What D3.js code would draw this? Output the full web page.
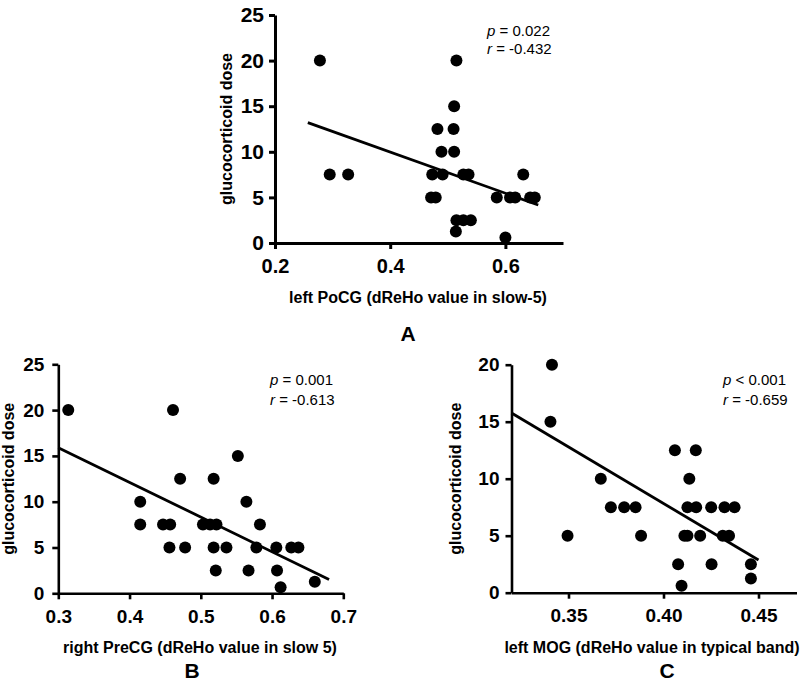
<!DOCTYPE html>
<html>
<head>
<meta charset="utf-8">
<script src="https://cdn.jsdelivr.net/npm/d3@7"></script>
<style>
  html, body { margin: 0; padding: 0; background: #fff; }
  svg { display: block; font-family: "Liberation Sans", Arial, sans-serif; }
</style>
</head>
<body>
<svg id="chart" width="800" height="684"></svg>
<script>
// ---------- Data ----------
// Panel A: left PoCG (dReHo value in slow-5)
const aX = [0.278, 0.295, 0.327, 0.515, 0.511, 0.482, 0.510, 0.489, 0.511, 0.473, 0.491, 0.527, 0.536,
            0.471, 0.479, 0.585, 0.608, 0.617, 0.643, 0.651, 0.631, 0.515, 0.527, 0.540, 0.514, 0.600];
const aY = [20, 7.5, 7.5, 20, 15, 12.5, 12.5, 10, 10, 7.5, 7.5, 7.5, 7.5,
            5, 5, 5, 5, 5, 5, 5, 7.5, 2.5, 2.5, 2.5, 1.25, 0.6];
const aFit = [[0.257, 13.2], [0.657, 4.17]];
const aXTicks = [0.2, 0.4, 0.6];
const aYTicks = [0, 5, 10, 15, 20, 25];

// Panel B: right PreCG (dReHo value in slow 5)
const bX = [0.314, 0.461, 0.552, 0.471, 0.518, 0.415, 0.564,
            0.415, 0.447, 0.457, 0.503, 0.513, 0.522, 0.583,
            0.456, 0.478, 0.518, 0.536, 0.578, 0.606, 0.627, 0.637,
            0.521, 0.567, 0.607, 0.612, 0.660];
const bY = [20, 20, 15, 12.5, 12.5, 10, 10,
            7.5, 7.5, 7.5, 7.5, 7.5, 7.5, 7.5,
            5, 5, 5, 5, 5, 5, 5, 5,
            2.5, 2.5, 2.5, 0.65, 1.27];
const bFit = [[0.30, 15.9], [0.680, 1.5]];
const bXTicks = [0.3, 0.4, 0.5, 0.6, 0.7];
const bYTicks = [0, 5, 10, 15, 20, 25];

// Panel C: left MOG (dReHo value in typical band)
const cX = [0.3413, 0.3405, 0.3495, 0.367,
            0.3723, 0.3793, 0.3853, 0.4126, 0.4172, 0.4251, 0.4321, 0.4374,
            0.3882, 0.4110, 0.4126, 0.4193, 0.4312, 0.4345,
            0.4060, 0.4170, 0.4136,
            0.4077, 0.4253, 0.4460, 0.4460, 0.4095];
const cY = [20, 15, 5, 10,
            7.5, 7.5, 7.5, 7.5, 7.5, 7.5, 7.5, 7.5,
            5, 5, 5, 5, 5, 5,
            12.5, 12.5, 10,
            2.5, 2.5, 2.5, 1.25, 0.6];
const cFit = [[0.32, 15.76], [0.45, 2.87]];
const cXTicks = [0.35, 0.40, 0.45];
const cYTicks = [0, 5, 10, 15, 20];

const yTitle = "glucocorticoid dose";

// ---------- Drawing ----------
const svg = d3.select("#chart");

function drawPanel(o) {
  const x = d3.scaleLinear().domain(o.xDomain).range(o.xRange);
  const y = d3.scaleLinear().domain(o.yDomain).range(o.yRange);
  const g = svg.append("g");

  // x axis
  const xa = g.append("g")
    .attr("transform", `translate(0,${o.yRange[0]})`)
    .call(d3.axisBottom(x).tickValues(o.xTicks).tickFormat(o.xFmt)
      .tickSize(6).tickSizeOuter(0).tickPadding(o.xPad));
  // y axis
  const ya = g.append("g")
    .attr("transform", `translate(${o.xRange[0]},0)`)
    .call(d3.axisLeft(y).tickValues(o.yTicks).tickFormat(d3.format("d"))
      .tickSize(6).tickSizeOuter(0).tickPadding(o.yPad));

  [xa, ya].forEach(a => {
    a.select(".domain").attr("stroke", "#000").attr("stroke-width", o.axisW);
    a.selectAll(".tick line").attr("stroke", "#000").attr("stroke-width", o.axisW);
    a.selectAll("text").attr("fill", "#000").attr("font-weight", "bold")
      .attr("font-family", "'Liberation Sans', Arial, sans-serif");
  });
  xa.selectAll("text").attr("font-size", o.xTickFont);
  ya.selectAll("text").attr("font-size", o.yTickFont);

  // regression line
  g.append("line")
    .attr("x1", x(o.fit[0][0])).attr("y1", y(o.fit[0][1]))
    .attr("x2", x(o.fit[1][0])).attr("y2", y(o.fit[1][1]))
    .attr("stroke", "#000").attr("stroke-width", 2.8);

  // points
  g.selectAll("circle.pt").data(o.xs.map((v, i) => [v, o.ys[i]]))
    .enter().append("circle")
    .attr("class", "pt")
    .attr("cx", d => x(d[0])).attr("cy", d => y(d[1]))
    .attr("r", 6).attr("fill", "#000");

  // y title
  g.append("text")
    .attr("transform", `translate(${o.yTitleX},${(o.yRange[0] + o.yRange[1]) / 2}) rotate(-90)`)
    .attr("text-anchor", "middle")
    .attr("font-size", 16).attr("font-weight", "bold")
    .text(yTitle);

  // x title
  g.append("text")
    .attr("x", o.xTitleX).attr("y", o.xTitleY)
    .attr("text-anchor", "middle")
    .attr("font-size", 16).attr("font-weight", "bold")
    .text(o.xTitle);

  // statistics
  const st = g.append("text").attr("font-size", 15).attr("x", o.statX).attr("y", o.statY[0]);
  st.append("tspan").attr("font-style", "italic").text("p");
  st.append("tspan").text(o.pText);
  const st2 = g.append("text").attr("font-size", 15).attr("x", o.statX).attr("y", o.statY[1]);
  st2.append("tspan").attr("font-style", "italic").text("r");
  st2.append("tspan").text(o.rText);

  // panel letter
  g.append("text")
    .attr("x", o.letterX).attr("y", o.letterY)
    .attr("text-anchor", "middle")
    .attr("font-size", 21).attr("font-weight", "bold")
    .text(o.letter);
}

drawPanel({
  xs: aX, ys: aY, fit: aFit,
  xDomain: [0.2, 0.7], xRange: [275, 563],
  yDomain: [0, 25], yRange: [243, 15],
  xTicks: aXTicks, yTicks: aYTicks, xFmt: d3.format(".1f"),
  xPad: 10, yPad: 5, axisW: 3, xTickFont: 20, yTickFont: 21,
  yTitleX: 232, xTitle: "left PoCG (dReHo value in slow-5)", xTitleX: 418, xTitleY: 303,
  statX: 487, statY: [36, 54], pText: " = 0.022", rText: " = -0.432",
  letter: "A", letterX: 408, letterY: 341
});

drawPanel({
  xs: bX, ys: bY, fit: bFit,
  xDomain: [0.3, 0.7], xRange: [58.3, 343.3],
  yDomain: [0, 25], yRange: [593.3, 364.3],
  xTicks: bXTicks, yTicks: bYTicks, xFmt: d3.format(".1f"),
  xPad: 10, yPad: 8, axisW: 2.6, xTickFont: 19, yTickFont: 19,
  yTitleX: 14, xTitle: "right PreCG (dReHo value in slow 5)", xTitleX: 200, xTitleY: 653,
  statX: 270, statY: [385, 405], pText: " = 0.001", rText: " = -0.613",
  letter: "B", letterX: 192, letterY: 678
});

drawPanel({
  xs: cX, ys: cY, fit: cFit,
  xDomain: [0.32, 0.47], xRange: [511.5, 796.5],
  yDomain: [0, 20], yRange: [592.7, 364.7],
  xTicks: cXTicks, yTicks: cYTicks, xFmt: d3.format(".2f"),
  xPad: 10, yPad: 6, axisW: 2.6, xTickFont: 19, yTickFont: 19,
  yTitleX: 461, xTitle: "left MOG (dReHo value in typical band)", xTitleX: 652, xTitleY: 653,
  statX: 723, statY: [385, 405], pText: " < 0.001", rText: " = -0.659",
  letter: "C", letterX: 667, letterY: 678
});
</script>
</body>
</html>
